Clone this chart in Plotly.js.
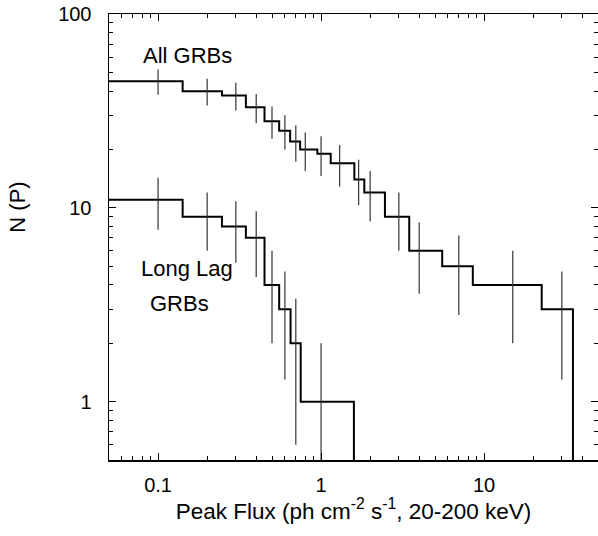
<!DOCTYPE html>
<html>
<head>
<meta charset="utf-8">
<script src="https://cdn.plot.ly/plotly-3.0.1.min.js"></script>
<style>html,body{margin:0;padding:0;background:#fff;}#chart{width:598px;height:536px;}</style>
</head>
<body>
<div id="chart"></div>
<script>
// All GRBs: bin edges, counts, point positions and error bars
var allEdges = [0.05, 0.1415, 0.2466, 0.3457, 0.4498, 0.5533, 0.646, 0.744, 0.949, 1.146, 1.60, 1.842, 2.465, 3.475, 5.534, 8.53, 22.57, 35.1];
var allCounts = [45, 40, 38, 33, 28, 25, 22, 20, 19, 17, 14, 12, 9, 6, 5, 4, 3];
var allX = [0.1, 0.2, 0.3, 0.4, 0.5, 0.6, 0.7, 0.8, 1.0, 1.3, 1.7, 2.0, 3.0, 4.0, 7.0, 15, 30];
var allErr = [6.7, 6.3, 6.2, 5.7, 5.3, 5.0, 4.7, 4.5, 4.4, 4.1, 3.7, 3.5, 3.0, 2.4, 2.2, 2.0, 1.7];

// Long Lag GRBs
var lagEdges = [0.05, 0.1415, 0.2466, 0.3457, 0.4498, 0.5533, 0.65, 0.75, 1.59];
var lagCounts = [11, 9, 8, 7, 4, 3, 2, 1];
var lagX = [0.1, 0.2, 0.3, 0.4, 0.5, 0.6, 0.7, 1.0];
var lagErr = [3.3, 3.0, 2.8, 2.6, 2.0, 1.7, 1.4, 1.0];
var lagErrMinus = [3.3, 3.0, 2.8, 2.6, 2.0, 1.7, 1.4, 0.99];

// Tick labels
var xTickVals = [0.1, 1, 10];
var xTickText = ['0.1', '1', '10'];
var yTickVals = [1, 10, 100];
var yTickText = ['1', '10', '100'];

var FLOOR = 0.1; // below the axis range; the closing drop is clipped at the axis

function stepTrace(edges, counts) {
  var last = counts[counts.length - 1];
  return {
    x: edges.concat([edges[edges.length - 1]]),
    y: counts.concat([last, FLOOR]),
    type: 'scatter', mode: 'lines',
    line: {shape: 'hv', color: '#000', width: 2},
    hoverinfo: 'skip'
  };
}
function errTrace(xs, ys, errs, errsMinus) {
  return {
    x: xs, y: ys, type: 'scatter', mode: 'markers',
    marker: {size: 1, color: '#000', opacity: 0},
    error_y: {type: 'data', array: errs, arrayminus: errsMinus || errs, symmetric: false,
              visible: true, width: 0, thickness: 1.2, color: '#333'}
  };
}

function minorVals(lo, hi) {
  var v = [];
  for (var d = Math.floor(Math.log10(lo)); d <= Math.ceil(Math.log10(hi)); d++) {
    for (var k = 2; k <= 9; k++) {
      var t = k * Math.pow(10, d);
      if (t > lo && t < hi) v.push(t);
    }
  }
  return v;
}

var font = 'Arial, "Liberation Sans", sans-serif';

var data = [
  stepTrace(allEdges, allCounts),
  errTrace(allX, allCounts, allErr),
  stepTrace(lagEdges, lagCounts),
  errTrace(lagX, lagCounts, lagErr, lagErrMinus)
];

var layout = {
  width: 598, height: 536,
  margin: {l: 109, r: 0, t: 14, b: 76},
  paper_bgcolor: '#fff', plot_bgcolor: '#fff',
  showlegend: false,
  font: {family: font, size: 20, color: '#000'},
  xaxis: {
    type: 'log', range: [Math.log10(0.05), Math.log10(50)],
    showgrid: false, zeroline: false,
    showline: true, linecolor: '#000', linewidth: 1.5, mirror: 'ticks',
    ticks: 'inside', ticklen: 7, tickwidth: 1, tickcolor: '#000',
    tickvals: xTickVals, ticktext: xTickText,
    tickfont: {family: font, size: 20},
    ticklabelstandoff: 6,
    minor: {ticks: 'inside', ticklen: 4, tickwidth: 1, tickcolor: '#000', tickvals: minorVals(0.05, 50), showgrid: false},
    title: {text: 'Peak Flux (ph cm<sup>-2</sup> s<sup>-1</sup>, 20-200 keV)', font: {family: font, size: 22.5}, standoff: 4}
  },
  yaxis: {
    type: 'log', range: [Math.log10(0.5), 2],
    showgrid: false, zeroline: false,
    showline: true, linecolor: '#000', linewidth: 1.5, mirror: 'ticks',
    ticks: 'inside', ticklen: 7, tickwidth: 1, tickcolor: '#000',
    tickvals: yTickVals, ticktext: yTickText,
    tickfont: {family: font, size: 20},
    ticklabelstandoff: 12,
    minor: {ticks: 'inside', ticklen: 4, tickwidth: 1, tickcolor: '#000', tickvals: minorVals(0.5, 100), showgrid: false}
  },
  annotations: [
    {xref: 'paper', yref: 'paper', x: -0.187, y: 0.567, text: 'N (P)', textangle: -90,
     showarrow: false, font: {family: font, size: 22}, xanchor: 'center', yanchor: 'middle'},
    {xref: 'paper', yref: 'paper', x: 0.1605, y: 0.906, text: 'All GRBs',
     showarrow: false, font: {family: font, size: 22}, xanchor: 'center', yanchor: 'middle'},
    {xref: 'paper', yref: 'paper', x: 0.159, y: 0.43, text: 'Long Lag',
     showarrow: false, font: {family: font, size: 22}, xanchor: 'center', yanchor: 'middle'},
    {xref: 'paper', yref: 'paper', x: 0.145, y: 0.352, text: 'GRBs',
     showarrow: false, font: {family: font, size: 22}, xanchor: 'center', yanchor: 'middle'}
  ]
};

Plotly.newPlot('chart', data, layout, {displayModeBar: false, staticPlot: true});
</script>
</body>
</html>
